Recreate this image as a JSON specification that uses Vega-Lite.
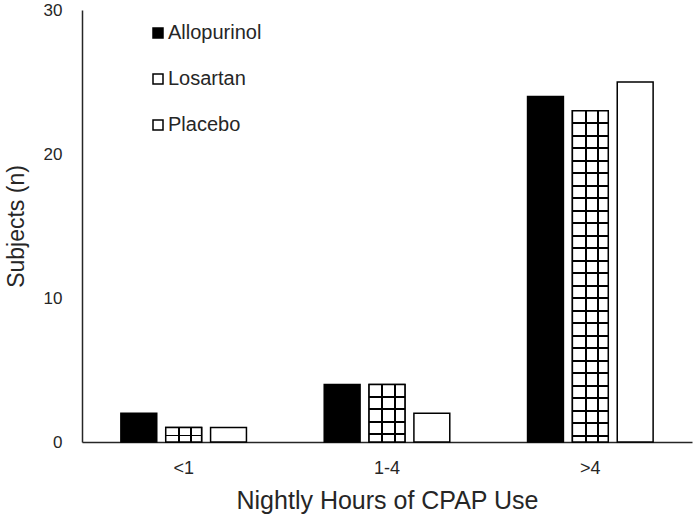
{
  "$schema": "https://vega.github.io/schema/vega-lite/v6.json",
  "width": 610,
  "height": 432,
  "autosize": {"type": "none"},
  "padding": {"left": 82, "top": 10, "right": 8, "bottom": 83},
  "background": "white",
  "config": {
    "view": {"stroke": null},
    "font": "Liberation Sans",
    "axis": {"labelFont": "Liberation Sans", "titleFont": "Liberation Sans", "labelColor": "#262626", "titleColor": "#262626", "titleFontWeight": "normal", "grid": false, "ticks": false, "domainColor": "#262626", "domainWidth": 1.5},
    "legend": {"labelFont": "Liberation Sans"}
  },
  "data": {
    "values": [
      {"hours": "<1", "drug": "Allopurinol", "n": 2},
      {"hours": "<1", "drug": "Losartan", "n": 1},
      {"hours": "<1", "drug": "Placebo", "n": 1},
      {"hours": "1-4", "drug": "Allopurinol", "n": 4},
      {"hours": "1-4", "drug": "Losartan", "n": 4},
      {"hours": "1-4", "drug": "Placebo", "n": 2},
      {"hours": ">4", "drug": "Allopurinol", "n": 24},
      {"hours": ">4", "drug": "Losartan", "n": 23},
      {"hours": ">4", "drug": "Placebo", "n": 25}
    ]
  },
  "encoding": {
    "x": {"field": "hours", "type": "nominal", "sort": ["<1", "1-4", ">4"],
      "scale": {"paddingInner": 0, "paddingOuter": 0},
      "axis": {"title": "Nightly Hours of CPAP Use", "labelAngle": 0, "labelFontSize": 18, "labelPadding": 17, "titleFontSize": 25, "titlePadding": 11}},
    "xOffset": {"field": "drug", "type": "nominal", "sort": ["Allopurinol", "Losartan", "Placebo"],
      "scale": {"domain": ["Allopurinol", "Losartan", "Placebo"], "paddingInner": 0.2, "paddingOuter": 0.867}},
    "y": {"field": "n", "type": "quantitative",
      "scale": {"domain": [0, 30], "nice": false},
      "axis": {"title": "Subjects (n)", "values": [0, 10, 20, 30], "labelFontSize": 17, "labelPadding": 20, "titleFontSize": 23, "titlePadding": 15}}
  },
  "layer": [
    {
      "mark": {"type": "bar", "stroke": "black", "strokeWidth": 1.5},
      "encoding": {
        "fill": {"field": "drug", "type": "nominal",
          "scale": {"domain": ["Allopurinol", "Losartan", "Placebo"], "range": ["black", "white", "white"]},
          "legend": {"title": null, "orient": "none", "legendX": 66, "legendY": 13, "padding": 0,
            "labelFontSize": 20, "labelColor": "#262626", "labelOffset": 0, "rowPadding": 26,
            "symbolType": "square", "symbolSize": 100, "symbolStrokeColor": "black", "symbolStrokeWidth": 1.5}}
      }
    },
    {
      "transform": [{"filter": "datum.drug === 'Losartan'"}],
      "mark": {"type": "bar", "strokeWidth": 0},
      "encoding": {
        "fill": {
          "condition": [
            {"test": "datum.hours === '<1'", "value": {"gradient": "linear", "x1": 0, "y1": 0, "x2": 0, "y2": 1, "stops": [
              {"offset": 0, "color": "white"}, {"offset": 0.49, "color": "white"}, {"offset": 0.49, "color": "black"}, {"offset": 0.615, "color": "black"}, {"offset": 0.615, "color": "white"}, {"offset": 1, "color": "white"}]}},
            {"test": "datum.hours === '1-4'", "value": {"gradient": "linear", "x1": 0, "y1": 0, "x2": 0, "y2": 1, "stops": [
              {"offset": 0, "color": "white"},
              {"offset": 0.200, "color": "white"}, {"offset": 0.200, "color": "black"}, {"offset": 0.234, "color": "black"}, {"offset": 0.234, "color": "white"},
              {"offset": 0.417, "color": "white"}, {"offset": 0.417, "color": "black"}, {"offset": 0.451, "color": "black"}, {"offset": 0.451, "color": "white"},
              {"offset": 0.634, "color": "white"}, {"offset": 0.634, "color": "black"}, {"offset": 0.668, "color": "black"}, {"offset": 0.668, "color": "white"},
              {"offset": 0.851, "color": "white"}, {"offset": 0.851, "color": "black"}, {"offset": 0.885, "color": "black"}, {"offset": 0.885, "color": "white"},
              {"offset": 1, "color": "white"}]}}
          ],
          "value": {"gradient": "linear", "x1": 0, "y1": 0, "x2": 0, "y2": 1, "stops": [
            {"offset": 0, "color": "white"},
            {"offset": 0.0347, "color": "white"}, {"offset": 0.0347, "color": "black"}, {"offset": 0.0408, "color": "black"}, {"offset": 0.0408, "color": "white"},
            {"offset": 0.0725, "color": "white"}, {"offset": 0.0725, "color": "black"}, {"offset": 0.0785, "color": "black"}, {"offset": 0.0785, "color": "white"},
            {"offset": 0.1102, "color": "white"}, {"offset": 0.1102, "color": "black"}, {"offset": 0.1162, "color": "black"}, {"offset": 0.1162, "color": "white"},
            {"offset": 0.1479, "color": "white"}, {"offset": 0.1479, "color": "black"}, {"offset": 0.1540, "color": "black"}, {"offset": 0.1540, "color": "white"},
            {"offset": 0.1857, "color": "white"}, {"offset": 0.1857, "color": "black"}, {"offset": 0.1917, "color": "black"}, {"offset": 0.1917, "color": "white"},
            {"offset": 0.2234, "color": "white"}, {"offset": 0.2234, "color": "black"}, {"offset": 0.2295, "color": "black"}, {"offset": 0.2295, "color": "white"},
            {"offset": 0.2612, "color": "white"}, {"offset": 0.2612, "color": "black"}, {"offset": 0.2672, "color": "black"}, {"offset": 0.2672, "color": "white"},
            {"offset": 0.2989, "color": "white"}, {"offset": 0.2989, "color": "black"}, {"offset": 0.3050, "color": "black"}, {"offset": 0.3050, "color": "white"},
            {"offset": 0.3367, "color": "white"}, {"offset": 0.3367, "color": "black"}, {"offset": 0.3427, "color": "black"}, {"offset": 0.3427, "color": "white"},
            {"offset": 0.3744, "color": "white"}, {"offset": 0.3744, "color": "black"}, {"offset": 0.3804, "color": "black"}, {"offset": 0.3804, "color": "white"},
            {"offset": 0.4121, "color": "white"}, {"offset": 0.4121, "color": "black"}, {"offset": 0.4182, "color": "black"}, {"offset": 0.4182, "color": "white"},
            {"offset": 0.4499, "color": "white"}, {"offset": 0.4499, "color": "black"}, {"offset": 0.4559, "color": "black"}, {"offset": 0.4559, "color": "white"},
            {"offset": 0.4876, "color": "white"}, {"offset": 0.4876, "color": "black"}, {"offset": 0.4937, "color": "black"}, {"offset": 0.4937, "color": "white"},
            {"offset": 0.5254, "color": "white"}, {"offset": 0.5254, "color": "black"}, {"offset": 0.5314, "color": "black"}, {"offset": 0.5314, "color": "white"},
            {"offset": 0.5631, "color": "white"}, {"offset": 0.5631, "color": "black"}, {"offset": 0.5691, "color": "black"}, {"offset": 0.5691, "color": "white"},
            {"offset": 0.6008, "color": "white"}, {"offset": 0.6008, "color": "black"}, {"offset": 0.6069, "color": "black"}, {"offset": 0.6069, "color": "white"},
            {"offset": 0.6386, "color": "white"}, {"offset": 0.6386, "color": "black"}, {"offset": 0.6446, "color": "black"}, {"offset": 0.6446, "color": "white"},
            {"offset": 0.6763, "color": "white"}, {"offset": 0.6763, "color": "black"}, {"offset": 0.6824, "color": "black"}, {"offset": 0.6824, "color": "white"},
            {"offset": 0.7141, "color": "white"}, {"offset": 0.7141, "color": "black"}, {"offset": 0.7201, "color": "black"}, {"offset": 0.7201, "color": "white"},
            {"offset": 0.7518, "color": "white"}, {"offset": 0.7518, "color": "black"}, {"offset": 0.7579, "color": "black"}, {"offset": 0.7579, "color": "white"},
            {"offset": 0.7896, "color": "white"}, {"offset": 0.7896, "color": "black"}, {"offset": 0.7956, "color": "black"}, {"offset": 0.7956, "color": "white"},
            {"offset": 0.8273, "color": "white"}, {"offset": 0.8273, "color": "black"}, {"offset": 0.8333, "color": "black"}, {"offset": 0.8333, "color": "white"},
            {"offset": 0.8650, "color": "white"}, {"offset": 0.8650, "color": "black"}, {"offset": 0.8711, "color": "black"}, {"offset": 0.8711, "color": "white"},
            {"offset": 0.9028, "color": "white"}, {"offset": 0.9028, "color": "black"}, {"offset": 0.9088, "color": "black"}, {"offset": 0.9088, "color": "white"},
            {"offset": 0.9405, "color": "white"}, {"offset": 0.9405, "color": "black"}, {"offset": 0.9466, "color": "black"}, {"offset": 0.9466, "color": "white"},
            {"offset": 0.9783, "color": "white"}, {"offset": 0.9783, "color": "black"}, {"offset": 0.9843, "color": "black"}, {"offset": 0.9843, "color": "white"},
            {"offset": 1, "color": "white"}]}
        }
      }
    },
    {
      "transform": [{"filter": "datum.drug === 'Losartan'"}],
      "mark": {"type": "bar", "stroke": "black", "strokeWidth": 1.5,
        "fill": {"gradient": "linear", "x1": 0, "y1": 0, "x2": 1, "y2": 0, "stops": [
          {"offset": 0, "color": "rgba(255,255,255,0)"}, {"offset": 0.345, "color": "rgba(255,255,255,0)"},
          {"offset": 0.345, "color": "black"}, {"offset": 0.40, "color": "black"},
          {"offset": 0.40, "color": "rgba(255,255,255,0)"}, {"offset": 0.685, "color": "rgba(255,255,255,0)"},
          {"offset": 0.685, "color": "black"}, {"offset": 0.74, "color": "black"},
          {"offset": 0.74, "color": "rgba(255,255,255,0)"}, {"offset": 1, "color": "rgba(255,255,255,0)"}]}},
      "encoding": {}
    }
  ]
}
